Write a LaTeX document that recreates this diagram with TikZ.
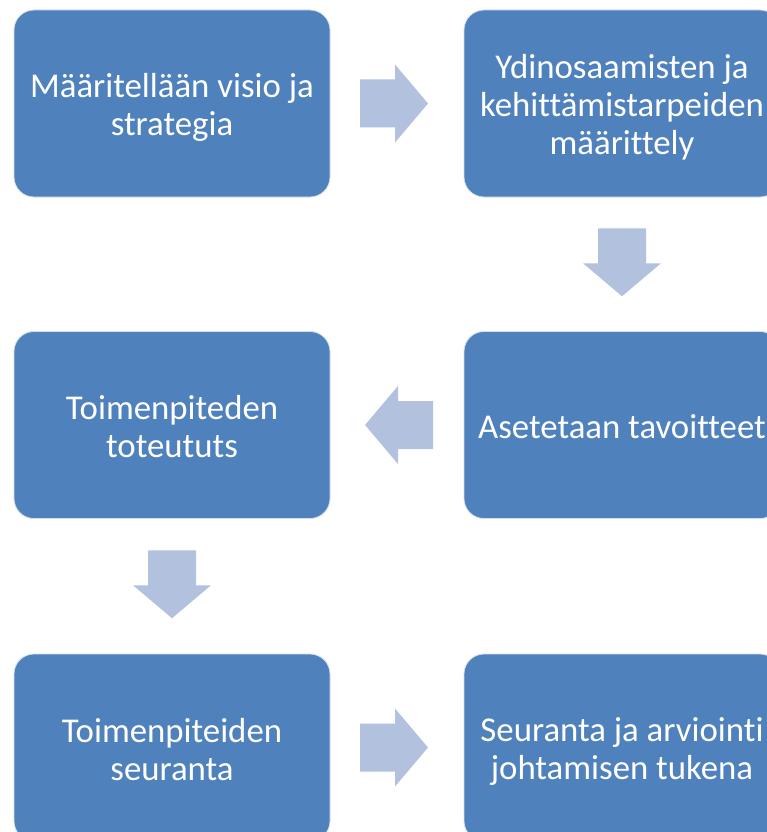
\documentclass[tikz,border=0pt]{standalone}
\usepackage{fontspec}
\setmainfont{Carlito}[Ligatures=NoCommon]
\usetikzlibrary{calc}
\definecolor{boxblue}{RGB}{79,129,189}
\definecolor{arrowblue}{RGB}{178,194,222}
\newcommand\lnstrut{\rule[-4pt]{0pt}{35pt}}
\tikzset{
  box/.style={rectangle, rounded corners=20pt, fill=boxblue, draw=white!75!boxblue, line width=0.8pt,
    minimum width=316pt, minimum height=187pt, inner sep=0pt, text=white, align=center,
    font=\fontsize{34.8}{38}\selectfont},
  blockarrow/.pic={\fill[arrowblue] (-34,-24) -- (1,-24) -- (1,-39) -- (34,0) -- (1,39) -- (1,24) -- (-34,24) -- cycle;}
}
\begin{document}
\begin{tikzpicture}[x=1pt,y=-1pt]
\clip (0,0) rectangle (767,832);
\fill[white] (0,0) rectangle (767,832);
\node[box] (a) at (172,103.5) {\lnstrut Määritellään visio ja\\\lnstrut strategia};
\node[box] (b) at (622,103.5) {\lnstrut Ydinosaamisten ja\\\lnstrut kehittämistarpeiden\\\lnstrut määrittely};
\node[box] (c) at (622,425) {\lnstrut Asetetaan tavoitteet};
\node[box] (d) at (172,425) {\lnstrut Toimenpiteden\\\lnstrut toteututs};
\node[box] (e) at (172,747.5) {\lnstrut Toimenpiteiden\\\lnstrut seuranta};
\node[box] (f) at (622,747.5) {\lnstrut Seuranta ja arviointi\\\lnstrut johtamisen tukena};
\pic at ($(a.east)!0.5!(b.west)+(-3,0)$) {blockarrow};
\pic[rotate=-90] at ($(b.south)!0.5!(c.north)+(0,-2)$) {blockarrow};
\pic[rotate=180] at ($(c.west)!0.5!(d.east)+(2,0)$) {blockarrow};
\pic[rotate=-90] at ($(d.south)!0.5!(e.north)+(0,-2)$) {blockarrow};
\pic at ($(e.east)!0.5!(f.west)+(-3,0)$) {blockarrow};
\end{tikzpicture}
\end{document}
